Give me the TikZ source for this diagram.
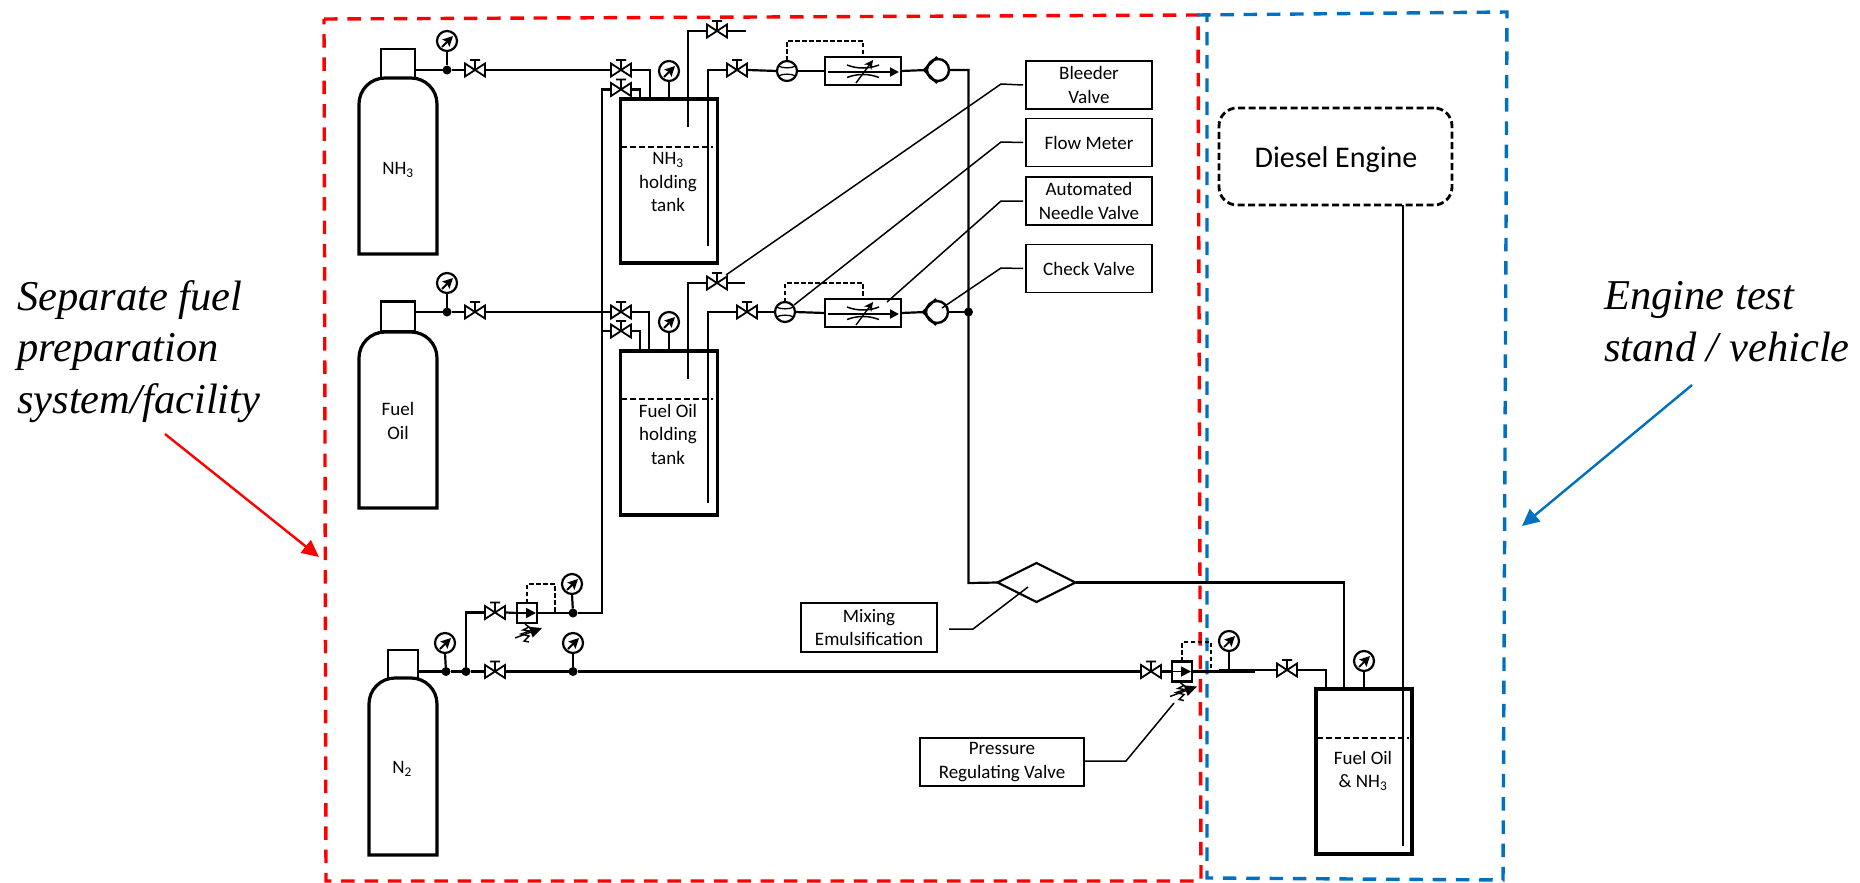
\documentclass[tikz,border=0pt]{standalone}
\usepackage{fontspec}
\setmainfont{Carlito}
\newfontfamily\notefont{Liberation Serif}
\usetikzlibrary{arrows.meta,shapes.geometric}

\tikzset{
	pipe/.style={line width=2.2pt},
	lead/.style={line width=1.5pt},
	sense/.style={line width=1.4pt,dash pattern=on 4.5pt off 2.5pt},
	level/.style={line width=1.5pt,dash pattern=on 5.5pt off 3.5pt},
	vessel/.style={draw,rectangle,line width=3.2pt,inner sep=0pt,outer sep=0pt},
	neck/.style={vessel,line width=2.8pt},
	flask/.style={rectangle,inner sep=0pt,outer sep=0pt,
		append after command={\pgfextra{\draw[line width=3.2pt] (\tikzlastnode.south west) [rounded corners=26pt] -- (\tikzlastnode.north west) -- (\tikzlastnode.north east) [sharp corners] -- (\tikzlastnode.south east) -- cycle;}}},
	word/.style={inner sep=0pt,align=center,font=\fontsize{19}{23.5}\selectfont},
	tag/.style={draw,rectangle,line width=1.6pt,inner sep=0pt,outer sep=3pt,minimum width=126pt,minimum height=48pt,align=center,font=\fontsize{19}{23.5}\selectfont},
	note/.style={inner sep=0pt,align=left,font=\notefont\itshape\fontsize{42.5}{51.5}\selectfont},
	dot/.style={circle,fill,inner sep=0pt,outer sep=0pt,minimum size=9pt},
	valve/.style={rectangle,inner sep=0pt,outer sep=0pt,minimum width=22pt,minimum height=28pt,
		path picture={\draw[line width=1.8pt,shift={(path picture bounding box.center)}] (-10,-6.5) -- (10,6.5) -- (10,-6.5) -- (-10,6.5) -- cycle (0,0) -- (0,-10) (-5,-10) -- (5,-10);}},
	gauge/.style={draw,circle,line width=2.2pt,inner sep=0pt,outer sep=0pt,minimum size=20pt,
		path picture={\draw[line width=1.8pt,-{Stealth[length=10pt,width=10pt,inset=1.5pt]},shift={(path picture bounding box.center)}] (-5,6) -- (6,-5);}},
	meter/.style={draw,circle,line width=2.2pt,inner sep=0pt,outer sep=0pt,minimum size=20pt,
		path picture={\draw[line width=1.3pt,shift={(path picture bounding box.center)}] (-9,-5) .. controls (-3,-2.5) and (3,-2.5) .. (9,-5) (-9,5) .. controls (-3,2.5) and (3,2.5) .. (9,5);}},
	needle/.style={draw,rectangle,line width=1.7pt,inner sep=0pt,outer sep=0pt,minimum width=76pt,minimum height=28pt,
		path picture={\draw[line width=1.5pt,shift={(path picture bounding box.center)}] (-16,-6) .. controls (-6,-2) and (6,-2) .. (16,-6) (-16,6.5) .. controls (-6,2.5) and (6,2.5) .. (16,6.5);
			\draw[line width=2pt,-{Stealth[length=9pt,width=9pt,inset=0pt]},shift={(path picture bounding box.center)}] (-35,1) -- (36,1);
			\draw[line width=1.4pt,-{Stealth[length=9pt,width=9pt]},shift={(path picture bounding box.center)}] (-7,12) -- (10,-11);}},
	check/.style={draw,circle,line width=2.4pt,inner sep=0pt,outer sep=0pt,minimum size=22pt,
		append after command={\pgfextra{\draw[line width=2.4pt,shift={(\tikzlastnode.center)}] (-1,-13) -- (-14,0) -- (-1,13);}}},
	regulator/.style={draw,rectangle,line width=2.4pt,inner sep=0pt,outer sep=0pt,minimum size=20pt,
		path picture={\draw[line width=1.8pt,-{Stealth[length=10pt,width=10pt,inset=0pt]},shift={(path picture bounding box.center)}] (-10,0) -- (9,0);},
		append after command={\pgfextra{\draw[line width=1.4pt,shift={(\tikzlastnode.center)}] (-2,11) -- (2,14) -- (-4,17) -- (3,18) -- (-6,21) -- (2,23) -- (-3,28) -- (2,29);
			\draw[line width=1.4pt,-{Stealth[length=12pt,width=11pt,inset=0pt]},shift={(\tikzlastnode.center)}] (-12,25) -- (15,15);}}},
}

\begin{document}
\begin{tikzpicture}[x=1pt,y=-1pt]
	\useasboundingbox (0,0) rectangle (1860,883);
	\definecolor{boxred}{RGB}{255,0,0}
	\definecolor{boxblue}{RGB}{0,112,192}
	\coordinate (ra)at(324,19);
	\coordinate (rb)at(1198,15);
	\coordinate (rc)at(1201,881);
	\coordinate (rd)at(326,881);
	\coordinate (ba)at(1197,15);
	\coordinate (bb)at(1507,12);
	\coordinate (bc)at(1503,880);
	\coordinate (bd)at(1207,878);
	\coordinate (be)at(1207,15);
	\draw[boxred,line width=3.4pt,dash pattern=on 13.5pt off 9.8pt] (ra) -- (rb) -- (rc) -- (rd) -- cycle;
	\draw[boxblue,line width=3.4pt,dash pattern=on 13.5pt off 9.8pt] (ba) -- (bb) -- (bc) -- (bd) -- (be);

	\node[note,anchor=base west] (fuelnote)at(17,413) {Separate fuel\\preparation\\system/facility};
	\node[note,anchor=base west] (enginenote)at(1604,361) {Engine test\\stand / vehicle};
	\coordinate (ra1)at(165,434);
	\coordinate (ra2)at(319,557);
	\coordinate (ba1)at(1692,385);
	\coordinate (ba2)at(1522,526);
	\draw[boxred,line width=2.4pt,-{Stealth[length=17pt,width=16pt,inset=0pt]}] (ra1) -- (ra2);
	\draw[boxblue,line width=2.4pt,-{Stealth[length=17pt,width=16pt,inset=0pt]}] (ba1) -- (ba2);

	\node[neck,minimum width=34pt,minimum height=29pt] (neck1)at(398,63.5) {};
	\node[neck,minimum width=34pt,minimum height=30pt] (neck2)at(398,316.5) {};
	\node[neck,minimum width=30pt,minimum height=28pt] (neck3)at(403,664) {};
	\node[flask,minimum width=78pt,minimum height=176pt] (cyl1)at(398,166) {};
	\node[flask,minimum width=78pt,minimum height=176pt] (cyl2)at(398,420) {};
	\node[flask,minimum width=68pt,minimum height=177pt] (cyl3)at(403,766.5) {};
	\node[word] (cyl1txt)at(398,170) {NH\textsubscript{3}};
	\node[word] (cyl2txt)at(398,421) {Fuel\\Oil};
	\node[word] (cyl3txt)at(402,769) {N\textsubscript{2}};

	\node[vessel,minimum width=97pt,minimum height=164pt] (tank1)at(669,181) {};
	\node[vessel,minimum width=97pt,minimum height=164pt] (tank2)at(669,433) {};
	\node[vessel,minimum width=96pt,minimum height=165pt] (tank3)at(1364,771.5) {};
	\node[word] (tank1txt)at(668,182) {NH\textsubscript{3}\\holding\\tank};
	\node[word] (tank2txt)at(668,434) {Fuel Oil\\holding\\tank};
	\node[word] (tank3txt)at(1363,771) {Fuel Oil\\\& NH\textsubscript{3}};
	\node[draw,rectangle,rounded corners=18pt,line width=2.8pt,dash pattern=on 7pt off 3.5pt,inner sep=0pt,outer sep=0pt,minimum width=233pt,minimum height=97pt] (engine)at(1335.5,156.5) {};
	\node[word,font=\fontsize{30}{36}\selectfont] (enginetxt)at(1336,159.5) {Diesel Engine};

	\node[tag] (bleedtag)at(1089,85) {Bleeder\\Valve};
	\node[tag] (flowtag)at(1089,142.5) {Flow Meter};
	\node[tag] (needletag)at(1089,201) {Automated\\Needle Valve};
	\node[tag] (checktag)at(1089,268.5) {Check Valve};
	\node[tag,outer sep=0pt,minimum width=136pt,minimum height=49pt] (mixtag)at(869,627.5) {Mixing\\Emulsification};
	\node[tag,outer sep=0pt,minimum width=164pt,minimum height=48pt] (prestag)at(1002,762) {Pressure\\Regulating Valve};

	\node[gauge] (g1)at(447,41) {};
	\node[gauge] (g2)at(447,283) {};
	\node[gauge] (g3)at(445,643) {};
	\node[gauge] (g4)at(572,584) {};
	\node[gauge] (g5)at(573,643) {};
	\node[gauge] (g6)at(669,71) {};
	\node[gauge] (g7)at(669,322) {};
	\node[gauge] (g8)at(1229,641) {};
	\node[gauge] (g9)at(1364,661) {};
	\node[dot] (d1)at(447,70) {};
	\node[dot] (d2)at(447,312) {};
	\node[dot] (d3)at(446,671.5) {};
	\node[dot] (d4)at(466,671.5) {};
	\node[dot] (d5)at(573,671.5) {};
	\node[dot] (d6)at(573,613) {};
	\node[dot] (d7)at(968.5,312) {};

	\node[valve] (v1)at(475,70) {};
	\node[valve] (v2)at(475,312) {};
	\node[valve] (v3)at(495,612.5) {};
	\node[valve] (v4)at(495,671.5) {};
	\node[valve] (v5)at(621,70) {};
	\node[valve] (v6)at(621,89.5) {};
	\node[valve] (v7)at(621,312) {};
	\node[valve] (v8)at(621,331) {};
	\node[valve] (v9)at(717,31) {};
	\node[valve] (v10)at(717,283) {};
	\node[valve] (v11)at(737,70) {};
	\node[valve] (v12)at(747,312) {};
	\node[valve] (v13)at(1151,671.5) {};
	\node[valve] (v14)at(1287,670) {};
	\node[meter] (fm1)at(787,71) {};
	\node[meter] (fm2)at(785,312) {};
	\node[needle] (nv1)at(863,71) {};
	\node[needle] (nv2)at(863,313) {};
	\node[check] (cv1)at(938,70) {};
	\node[check] (cv2)at(937,312) {};
	\node[regulator] (pr1)at(527,613) {};
	\node[regulator] (pr2)at(1182,671.5) {};
	\node[diamond,draw,line width=2.2pt,aspect=2,inner sep=0pt,outer sep=0pt,minimum width=78pt,minimum height=39pt] (mix)at(1036.5,582.5) {};

	\coordinate (ti1)at(650,99);
	\coordinate (ti2)at(640,99);
	\coordinate (ti3)at(649,351);
	\coordinate (ti4)at(640,351);
	\coordinate (ti5)at(1326,689);
	\coordinate (ti6)at(1344,689);
	\coordinate (dip1)at(688,127);
	\coordinate (dip2)at(688,379);
	\coordinate (dip3)at(708,246);
	\coordinate (dip4)at(708,503);
	\coordinate (dip5)at(1403,846);
	\coordinate (end1)at(746,31);
	\coordinate (end2)at(745,283);
	\coordinate (n2up)at(602,89.5);
	\coordinate (n2br)at(602,331);
	\coordinate (mixj)at(968.5,583);
	\coordinate (tee1)at(1229,671);
	\coordinate (seg1)at(1255,671.5);
	\coordinate (seg2)at(1219,670);

	\draw[pipe] (neck1.east |- d1) -- (d1);
	\draw[pipe] (g1.south) -- (d1);
	\draw[pipe] (d1) -- (v1.west);
	\draw[pipe] (v1.east) -- (v5.west);
	\draw[pipe] (v5.east) -| (ti1);
	\draw[pipe] (v6.east) -| (ti2);
	\draw[pipe] (neck2.east |- d2) -- (d2);
	\draw[pipe] (g2.south) -- (d2);
	\draw[pipe] (d2) -- (v2.west);
	\draw[pipe] (v2.east) -- (v7.west);
	\draw[pipe] (v7.east) -| (ti3);
	\draw[pipe] (v8.east) -| (ti4);
	\draw[pipe] (neck3.east |- d3) -- (d3);
	\draw[pipe] (g3.south) -- (d3);
	\draw[pipe] (d3) -- (d4);
	\draw[pipe] (d4) -- (v4.west);
	\draw[pipe] (v4.east) -- (d5);
	\draw[pipe] (g5.south) -- (d5);
	\draw[pipe] (d5) -- (v13.west);
	\draw[pipe] (v13.east) -- (pr2.west);
	\draw[pipe] (pr2.east) -- (seg1);
	\draw[pipe] (seg2) -- (v14.west);
	\draw[pipe] (g8.south) -- (tee1);
	\draw[pipe] (v14.east) -| (ti5);
	\draw[pipe] (d4) |- (v3.west);
	\draw[pipe] (v3.east) -- (pr1.west);
	\draw[pipe] (pr1.east) -- (d6);
	\draw[pipe] (g4.south) -- (d6);
	\draw[pipe] (d6) -| (n2up) -- (v6.west);
	\draw[pipe] (n2br) -- (v8.west);
	\draw[pipe] (g6.south) -- (tank1.north -| g6);
	\draw[pipe] (g7.south) -- (tank2.north -| g7);
	\draw[pipe] (g9.south) -- (tank3.north -| g9);
	\draw[pipe] (dip1) |- (v9.west);
	\draw[pipe] (v9.east) -- (end1);
	\draw[pipe] (dip2) |- (v10.west);
	\draw[pipe] (v10.east) -- (end2);
	\draw[pipe] (dip3) |- (v11.west);
	\draw[pipe] (v11.east) -- (fm1.west);
	\draw[pipe] (dip4) |- (v12.west);
	\draw[pipe] (v12.east) -- (fm2.west);
	\draw[pipe] (fm1.east) -- (nv1.west);
	\draw[pipe] (fm2.east) -- (nv2.west);
	\draw[pipe] (nv1.east) -- (cv1.west);
	\draw[pipe] (nv2.east) -- (cv2.west);
	\draw[pipe] (cv1.east) -| (mixj) -- (mix.west);
	\draw[pipe] (cv2.east) -- (d7);
	\draw[pipe] (mix.east) -| (ti6);
	\draw[pipe] (engine.south -| dip5) -- (dip5);

	\coordinate (lv1a)at(621,147);
	\coordinate (lv1b)at(713,147);
	\coordinate (lv2a)at(621,399);
	\coordinate (lv2b)at(713,399);
	\coordinate (lv3a)at(1317,738);
	\coordinate (lv3b)at(1409,738);
	\draw[level] (lv1a) -- (lv1b);
	\draw[level] (lv2a) -- (lv2b);
	\draw[level] (lv3a) -- (lv3b);
	\coordinate (sn1)at(825,41);
	\coordinate (sn2)at(825,283);
	\coordinate (sn3)at(540,584);
	\coordinate (sn4)at(1195,642);
	\coordinate (sn3r)at(555,612);
	\coordinate (sn4r)at(1211,671);
	\draw[sense] (fm1.north) |- (sn1) -| (nv1.north);
	\draw[sense] (fm2.north) |- (sn2) -| (nv2.north);
	\draw[sense] (pr1.north) |- (sn3) -| (sn3r);
	\draw[sense] (pr2.north) |- (sn4) -| (sn4r);

	\coordinate (el1)at(1001,84);
	\coordinate (el2)at(1001,142);
	\coordinate (el3)at(1001,201);
	\coordinate (el4)at(1001,268);
	\coordinate (el5)at(973,629);
	\coordinate (el6)at(1126,761);
	\coordinate (to1)at(726,275);
	\coordinate (to2)at(794,305);
	\coordinate (to3)at(887,302);
	\coordinate (to4)at(942,308);
	\coordinate (to5)at(1028,587);
	\coordinate (to6)at(1174,703);
	\coordinate (fr5)at(949,629);
	\draw[lead] (bleedtag.west) -- (el1) -- (to1);
	\draw[lead] (flowtag.west) -- (el2) -- (to2);
	\draw[lead] (needletag.west) -- (el3) -- (to3);
	\draw[lead] (checktag.west) -- (el4) -- (to4);
	\draw[lead] (fr5) -- (el5) -- (to5);
	\draw[lead] (prestag.east |- el6) -- (el6) -- (to6);
\end{tikzpicture}
\end{document}
